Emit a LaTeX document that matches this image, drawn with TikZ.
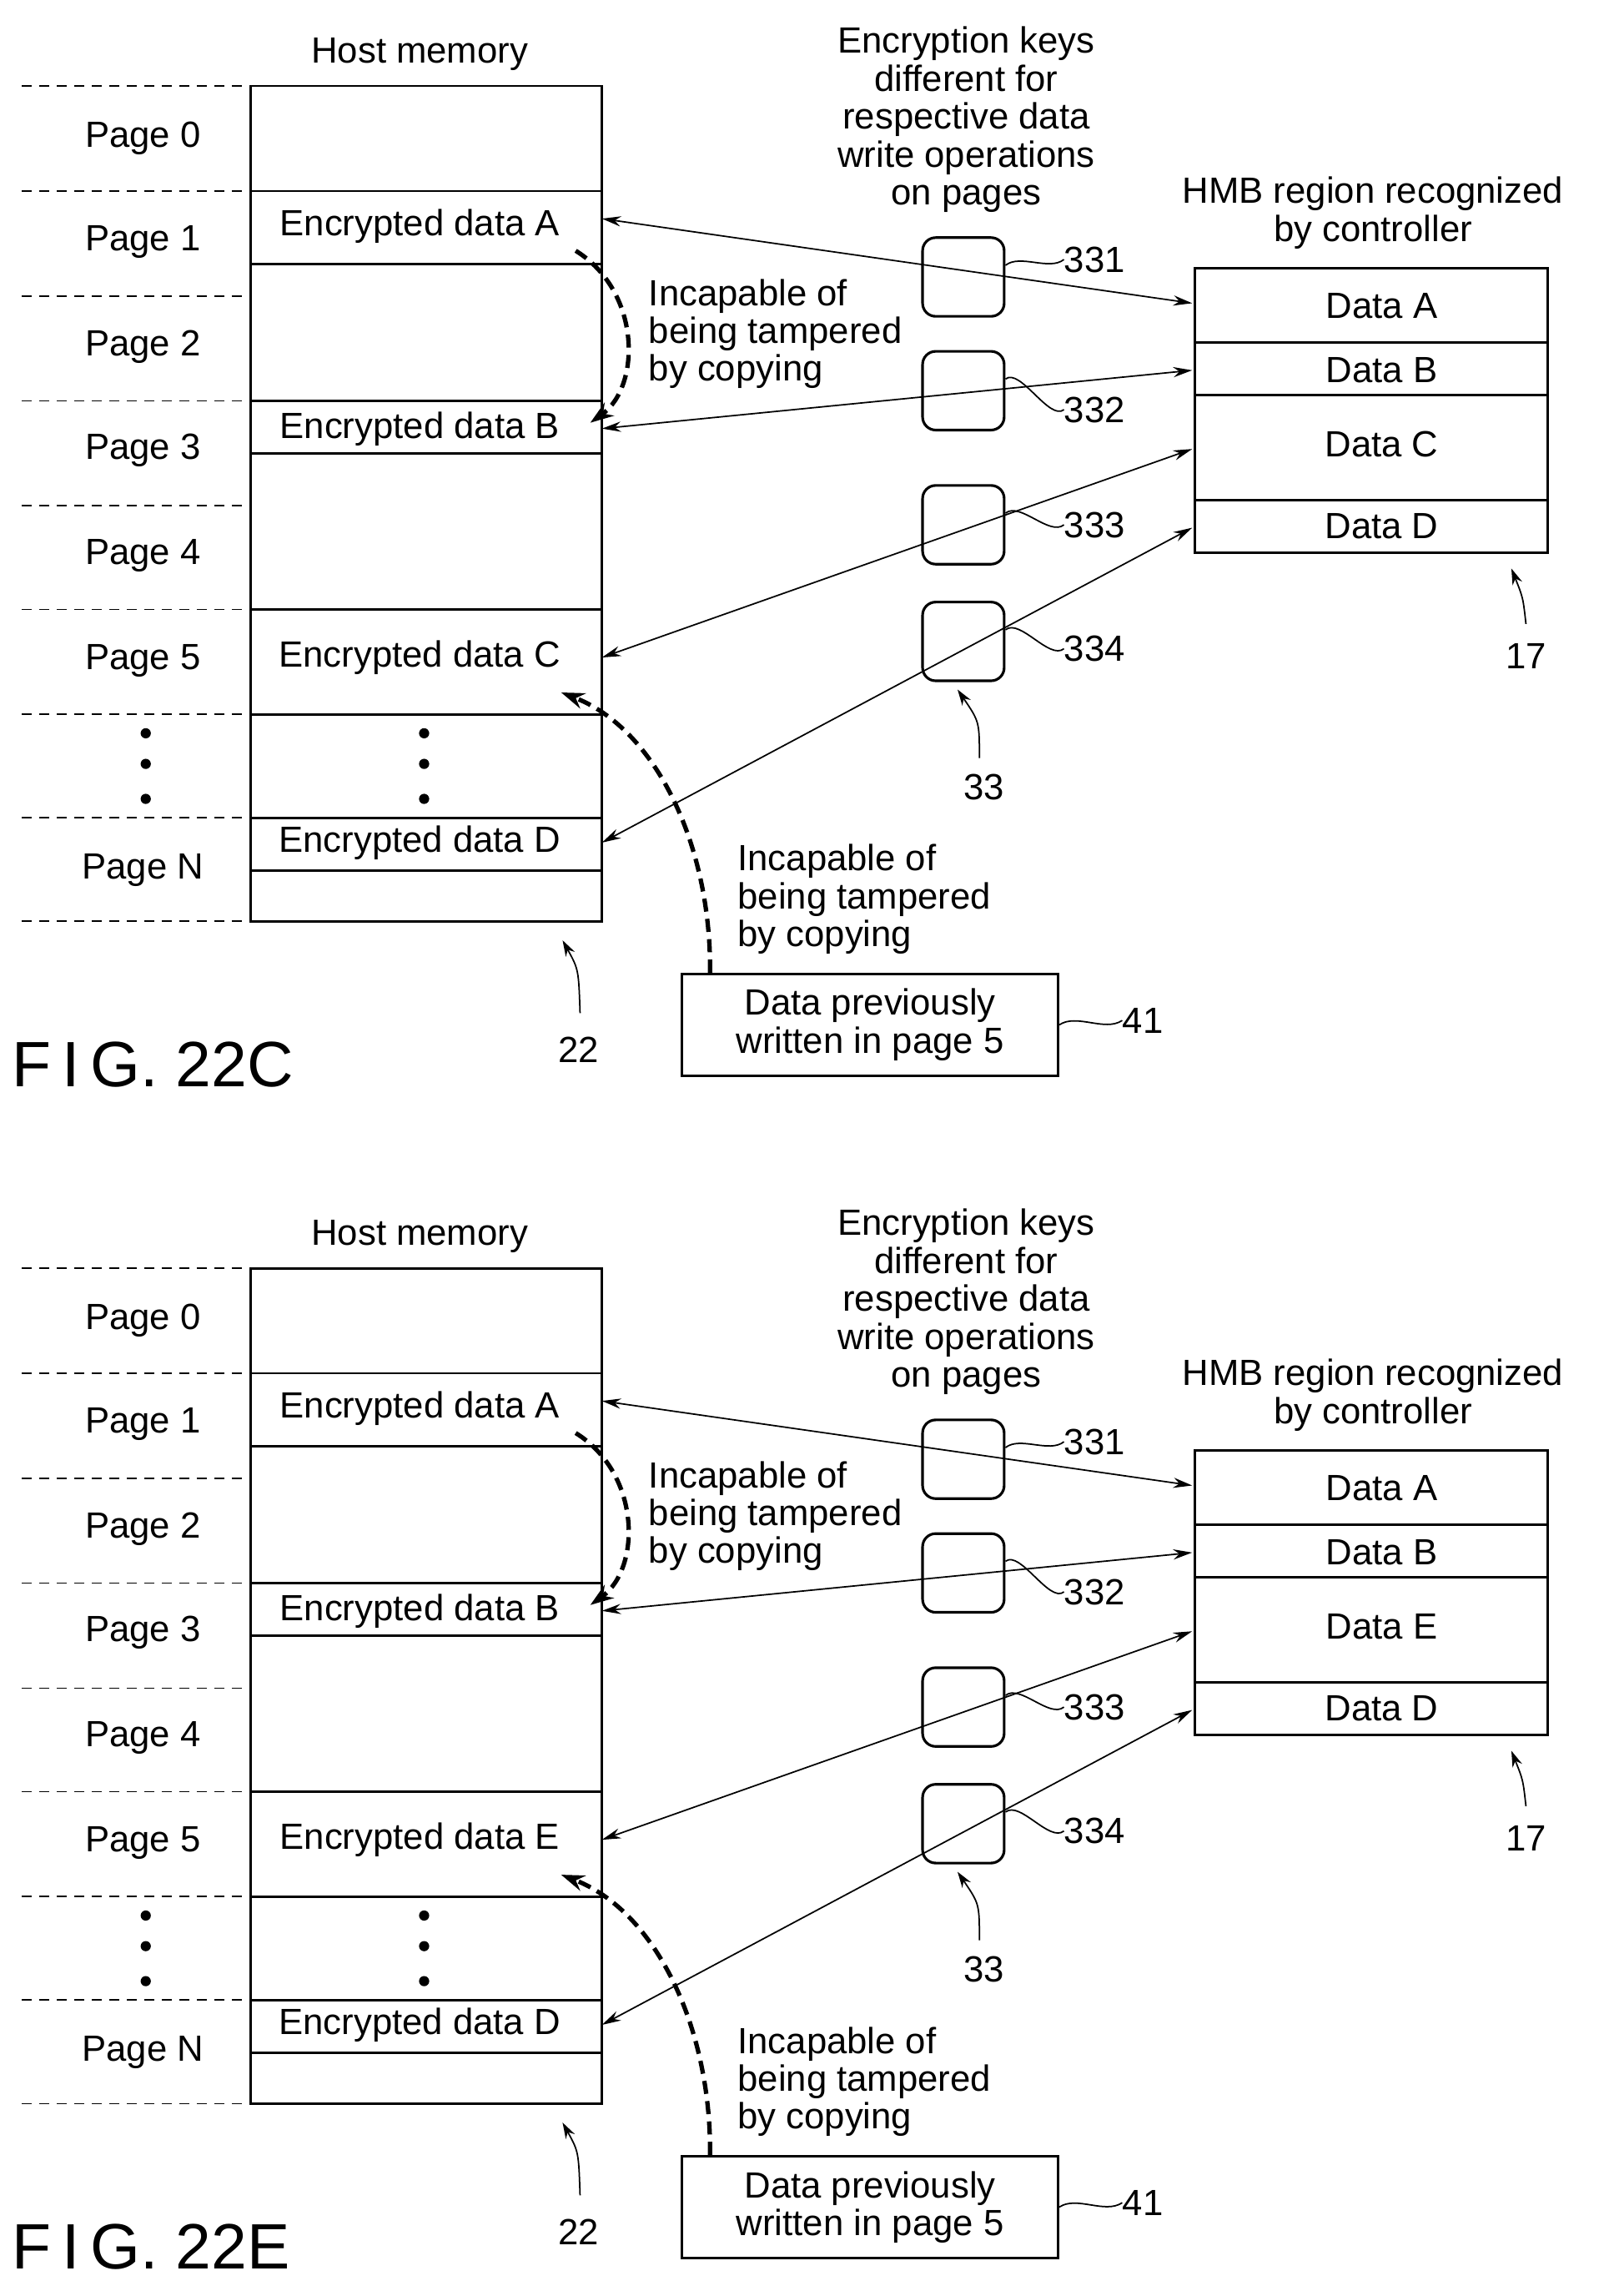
\documentclass[tikz,border=0pt]{standalone}
\usepackage{fontspec}
\setmainfont{Liberation Sans}
\usetikzlibrary{arrows.meta}
\begin{document}
\begin{tikzpicture}[x=1pt,y=-1pt,
  txt/.style={font=\fontsize{25}{29}\selectfont,inner sep=0pt,align=center},
  ln/.style={line width=1.6pt},
  dsh/.style={line width=1pt,dash pattern=on 7pt off 5pt},
  key/.style={draw,line width=1.8pt,rounded corners=9pt,minimum width=56pt,minimum height=54pt},
  dbl/.style={line width=1pt,{Stealth[length=13pt,width=7pt]}-{Stealth[length=13pt,width=7pt]}},
  cpy/.style={line width=3pt,dash pattern=on 9pt off 5pt,-{Stealth[length=16pt,width=11pt]}},
  lead/.style={line width=1pt,-{Stealth[length=11pt,width=7pt]}}]
\useasboundingbox (0,0) rectangle (1100,1575);
\newcommand{\panel}[3]{%
\begin{scope}[yshift=-#1]
\node[txt] (hm) at (288,37) {Host memory};
\draw[ln] (172,59) rectangle (413,632);
\foreach \y in {59,131,203,275,347,418,490,561,632} \draw[dsh] (15,\y) -- (172,\y);
\foreach \y in {131,181,275,311,418,490,561,597} \draw[ln] (172,\y) -- (413,\y);
\foreach \t/\y in {0/95,1/166,2/238,3/309,4/381,5/453} \node[txt] at (98,\y) {Page \t};
\node[txt] at (98,597) {Page N};
\foreach \y in {503,524,548} {\fill (100,\y) circle (3.5pt); \fill (291,\y) circle (3.5pt);}
\node[txt] (ea) at (288,155) {Encrypted data A};
\node[txt] (eb) at (288,294) {Encrypted data B};
\node[txt] (ec) at (288,451) {Encrypted data #2};
\node[txt] (ed) at (288,578) {Encrypted data D};
\node[txt] (ek) at (663,82) {Encryption keys\\[-3pt]different for\\[-3pt]respective data\\[-3pt]write operations\\[-3pt]on pages};
\node[key] (k1) at (661,190) {};
\node[key] (k2) at (661,268) {};
\node[key] (k3) at (661,360) {};
\node[key] (k4) at (661,440) {};
\foreach \k/\n/\y in {k1/331/178,k2/332/281,k3/333/360,k4/334/445}{
 \node[txt,anchor=west] (l\n) at (730,\y) {\n};
 \draw[line width=1pt] (\k.east) ++(0,-8) .. controls +(10,-8) and +(-10,8) .. (l\n.west);}
\node[txt] (hmb) at (942,146) {HMB region recognized\\[-3pt]by controller};
\draw[ln] (820,184) rectangle (1062,379);
\foreach \y in {235,271,343} \draw[ln] (820,\y) -- (1062,\y);
\node[txt] (da) at (948,210) {Data A};
\node[txt] (db) at (948,254) {Data B};
\node[txt] (dc) at (948,305) {Data #3};
\node[txt] (dd) at (948,361) {Data D};
\coordinate (pa) at (413,150); \coordinate (qa) at (818,208);
\coordinate (pb) at (413,294); \coordinate (qb) at (818,254);
\coordinate (pc) at (413,451); \coordinate (qc) at (818,308);
\coordinate (pd) at (413,578); \coordinate (qd) at (818,362);
\draw[dbl] (pa) -- (qa); \draw[dbl] (pb) -- (qb);
\draw[dbl] (pc) -- (qc); \draw[dbl] (pd) -- (qd);
\node[txt] (n17) at (1047,450) {17};
\draw[lead] (1047,428) .. controls (1045,410) .. (1037,390);
\node[txt] (n33) at (675,540) {33};
\draw[lead] (672,520) .. controls (672,495) .. (657,473);
\node[txt] (n22) at (397,720) {22};
\draw[lead] (398,695) .. controls (397,665) .. (386,645);
\coordinate (c1) at (395,172);
\draw[cpy] (c1) .. controls (440,200) and (440,265) .. (405,290);
\node[txt,align=left,anchor=west] (t1) at (445,229) {Incapable of\\[-3pt]being tampered\\[-3pt]by copying};
\node[draw,ln,minimum width=258pt,minimum height=70pt,txt] (b41) at (597,703) {Data previously\\[-3pt]written in page 5};
\draw[cpy] (b41.north west) ++(20,0) .. controls (488,580) and (450,500) .. (385,475);
\node[txt,align=left,anchor=west] (t2) at (506,617) {Incapable of\\[-3pt]being tampered\\[-3pt]by copying};
\node[txt,anchor=west] (l41) at (770,700) {41};
\draw[line width=1pt] (b41.east) .. controls +(12,-8) and +(-12,8) .. (l41.west);
\node[font=\fontsize{44}{48}\selectfont,anchor=west,inner sep=0pt] (fig) at (8,730) {F\,I\,G. 22#2};
\end{scope}}
\panel{0}{C}{C}
\panel{811}{E}{E}
\end{tikzpicture}
\end{document}
